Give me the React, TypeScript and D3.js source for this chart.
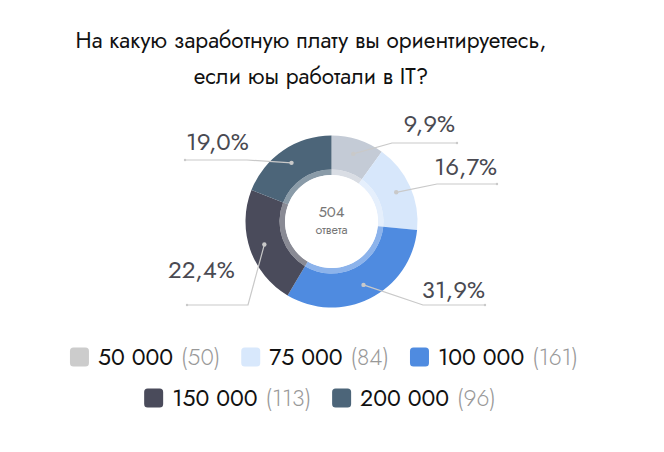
import React from "react";
import * as d3 from "d3";

const titleLines = ["На какую заработную плату вы ориентируетесь,", "если юы работали в IT?"];
const categories = ["50 000", "75 000", "100 000", "150 000", "200 000"];
const counts = [50, 84, 161, 113, 96];
const percentLabels = ["9,9%", "16,7%", "31,9%", "22,4%", "19,0%"];
const totalLabel = "504";
const totalCaption = "ответа";
const sliceColors = ["#c4cbd6", "#d7e7fb", "#4f8be0", "#4a4b5b", "#4c6579"];
const legendColors = ["#cccccc", "#d8e8fc", "#4f8be0", "#4a4b5b", "#4c6579"];

// label layout (positions only)
const labelLayout = [
  { ex: 392, ey: 143, endX: 457, tx: 455, ty: 132, anchor: "end" },
  { ex: 437, ey: 184, endX: 497, tx: 497, ty: 175, anchor: "end" },
  { ex: 423, ey: 305, endX: 485, tx: 485, ty: 298, anchor: "end" },
  { ex: 248, ey: 305, endX: 187, tx: 168, ty: 278, anchor: "start" },
  { ex: 247, ey: 160, endX: 185, tx: 186, ty: 150, anchor: "start" },
];

const legendRows = [[0, 1, 2], [3, 4]];
const legendRowY = [357, 398];
const legendRowCenterX = [324, 320];

const FONT = "Jost, Lato, 'Open Sans', sans-serif";

let ctx: CanvasRenderingContext2D | null = null;
function measure(s: string, size: number, weight = 400) {
  if (typeof document === "undefined") return s.length * size * 0.55;
  if (!ctx) ctx = document.createElement("canvas").getContext("2d");
  if (!ctx) return s.length * size * 0.55;
  ctx.font = `${weight} ${size}px ${FONT}`;
  return ctx.measureText(s).width;
}

export default function App() {
  const cx = 331.5;
  const cy = 221.5;
  const rOuter = 86;
  const rInner = 52;
  const rHole = 46.5;
  const pie = d3.pie<number>().sort(null).value((d) => d);
  const arcs = pie(counts);
  const arc = d3.arc<d3.PieArcDatum<number>>().innerRadius(rInner).outerRadius(rOuter);
  const ring = d3.arc<d3.PieArcDatum<number>>().innerRadius(rHole).outerRadius(rInner);
  const dotArc = d3.arc<d3.PieArcDatum<number>>().innerRadius(71).outerRadius(71);

  const sq = 19;
  const legendSize = 23;
  const items = legendRows.map((row, ri) => {
    const parts = row.map((idx) => {
      const label = categories[idx];
      const cnt = `(${counts[idx]})`;
      const lw = measure(label, legendSize, 400);
      const cw = measure(cnt, legendSize, 300);
      return { idx, label, cnt, lw, cw, w: sq + 9 + lw + 8 + cw };
    });
    const gap = 21;
    const total = parts.reduce((s, p) => s + p.w, 0) + gap * (parts.length - 1);
    let x = legendRowCenterX[ri] - total / 2;
    return parts.map((p) => {
      const x0 = x;
      x += p.w + gap;
      return { ...p, x0 };
    });
  });

  return (
    <svg
      width={664}
      height={452}
      style={{ position: "absolute", left: 0, top: 0, background: "#fff" }}
      fontFamily={FONT}
    >
      <rect width={664} height={452} fill="#fff" />
      {titleLines.map((t, i) => (
        <text key={i} x={311} y={48 + i * 36} textAnchor="middle" fontSize={22.5} fill="#111">
          {t}
        </text>
      ))}
      <g transform={`translate(${cx},${cy})`}>
        {arcs.map((a, i) => (
          <path key={i} d={arc(a) || ""} fill={sliceColors[i]} />
        ))}
        {arcs.map((a, i) => (
          <path key={"r" + i} d={ring(a) || ""} fill={sliceColors[i]} opacity={0.65} />
        ))}
        <circle r={rHole} fill="#fff" />
        <text y={-4.5} textAnchor="middle" fontSize={15} fill="#777">
          {totalLabel}
        </text>
        <text y={12.5} textAnchor="middle" fontSize={12.5} fill="#777">
          {totalCaption}
        </text>
      </g>
      {arcs.map((a, i) => {
        const [dx, dy] = dotArc.centroid(a);
        const px = cx + dx;
        const py = cy + dy;
        const L = labelLayout[i];
        return (
          <g key={"l" + i}>
            <polyline
              points={`${px},${py} ${L.ex},${L.ey} ${L.endX},${L.ey}`}
              fill="none"
              stroke="#c9c9c9"
              strokeWidth={1.2}
            />
            <circle cx={px} cy={py} r={2.2} fill="#c9c9c9" />
            <circle cx={L.endX} cy={L.ey} r={1.2} fill="#c9c9c9" />
            <text x={L.tx} y={L.ty} textAnchor={L.anchor as any} fontSize={24} fill="#4a4a52">
              {percentLabels[i]}
            </text>
          </g>
        );
      })}
      {items.map((row, ri) => {
        const y = legendRowY[ri];
        return (
          <g key={"lr" + ri}>
            {row.map((p) => {
              const tx = p.x0 + sq + 9;
              const cx2 = tx + p.lw + 8;
              return (
                <g key={p.idx}>
                  <rect x={p.x0} y={y - 9.5} width={sq} height={sq} rx={3.5} fill={legendColors[p.idx]} />
                  <text x={tx} y={y + 8} fontSize={legendSize} fill="#111">
                    {p.label}
                  </text>
                  <text x={cx2} y={y + 8} fontSize={legendSize} fill="#999" fontWeight={300}>
                    {p.cnt}
                  </text>
                </g>
              );
            })}
          </g>
        );
      })}
    </svg>
  );
}
